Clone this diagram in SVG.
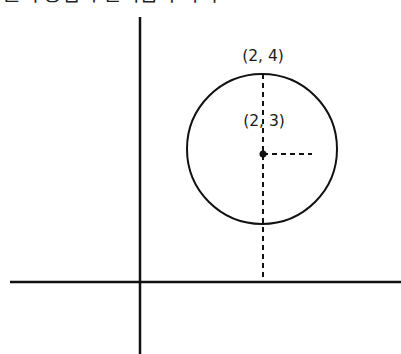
<svg xmlns="http://www.w3.org/2000/svg" width="401" height="354" viewBox="0 0 401 354">
<style>
.axis{stroke:#111;stroke-width:2.5;fill:none}
.dash{stroke:#111;stroke-width:2;stroke-dasharray:5 4;fill:none}
.lbl{font-family:"DejaVu Sans","Noto Sans",sans-serif;font-size:15.5px;fill:#1a1a1a;text-anchor:middle}
.title{font-family:"Noto Sans CJK KR","Noto Sans",sans-serif;font-size:20px;fill:#222}
</style>
<rect width="401" height="354" fill="#fff"/>
<text class="title" x="2" y="1">원의 중심과 반지름 구하기</text>
<g id="axes">
<line class="axis" x1="140" y1="17" x2="140" y2="354"/>
<line class="axis" x1="10" y1="282" x2="401" y2="282"/>
</g>
<g id="circle">
<circle cx="262" cy="149" r="75" fill="none" stroke="#111" stroke-width="2"/>
</g>
<g id="connectors">
<line class="dash" x1="263" y1="74" x2="263" y2="282"/>
<line class="dash" x1="263" y1="154" x2="312" y2="154"/>
</g>
<g id="center">
<circle cx="263" cy="154" r="3.5" fill="#111"/>
<text class="lbl" x="263" y="61">(2, 4)</text>
<text class="lbl" x="264" y="126">(2, 3)</text>
</g>
</svg>
